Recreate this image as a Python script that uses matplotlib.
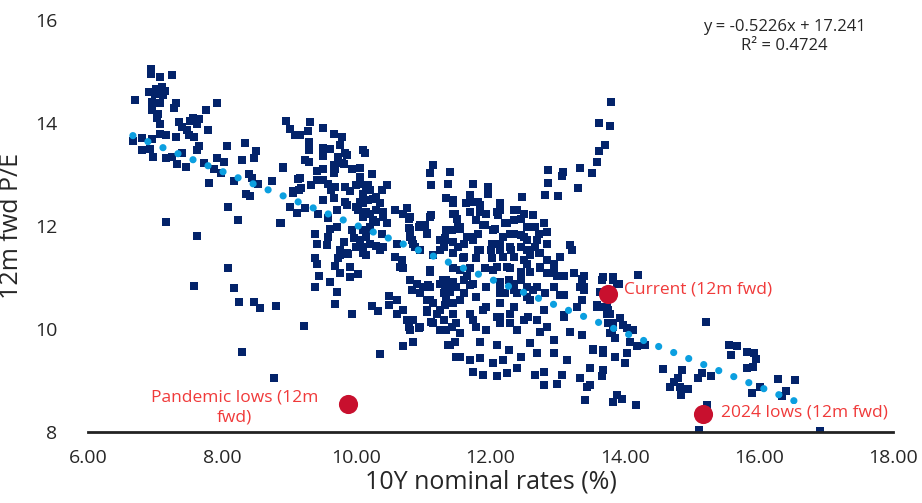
import numpy as np
import matplotlib
matplotlib.use("Agg")
import matplotlib.pyplot as plt

plt.rcParams['font.family'] = ['Liberation Sans Narrow', 'Open Sans', 'DejaVu Sans']

# ---- data: (10Y nominal rate %, 12m fwd P/E) ----
early_high_pe = [
    (6.94, 15.04), (6.94, 14.95), (7.07, 14.89), (7.25, 14.93), (7.01, 14.67), (7.11, 14.70),
    (7.07, 14.60), (7.15, 14.63), (6.91, 14.60), (7.00, 14.57), (7.12, 14.54), (6.70, 14.44),
    (6.96, 14.41), (7.07, 14.39), (7.31, 14.39), (7.28, 14.30), (6.96, 14.26), (7.05, 14.18),
    (7.03, 14.09), (7.07, 13.98), (7.92, 14.39), (7.76, 14.25), (7.35, 14.02), (7.40, 13.92),
    (7.56, 14.09), (7.65, 14.07), (7.62, 13.99), (7.47, 13.86), (7.52, 14.03), (7.79, 13.86),
    (7.08, 13.79), (7.17, 13.76), (7.31, 13.72), (7.51, 13.76), (7.58, 13.72), (6.81, 13.70),
    (6.95, 13.68), (6.67, 13.65), (6.81, 13.47), (6.92, 13.50), (7.65, 13.55), (7.62, 13.47),
    (8.07, 13.55), (8.34, 13.61), (8.51, 13.46), (8.47, 13.33), (8.29, 13.29), (6.97, 13.34),
    (7.17, 13.33), (7.25, 13.34), (7.40, 13.41), (7.33, 13.20), (7.46, 13.14), (7.73, 13.23),
    (7.93, 13.33), (8.03, 13.24), (7.88, 13.10), (7.98, 13.03), (8.40, 13.01), (8.45, 12.94),
    (8.17, 12.88), (8.54, 12.81), (8.74, 12.88), (8.95, 14.04), (9.01, 13.88), (9.08, 13.76),
    (8.90, 13.14), (9.13, 12.92), (9.05, 12.64), (9.15, 12.69), (8.35, 12.62), (8.41, 12.58),
    (7.81, 12.84), (8.09, 12.36), (8.24, 12.11), (8.88, 12.06), (7.16, 12.08), (7.62, 11.81),
    (9.01, 12.36), (9.11, 12.26), (8.08, 11.19), (7.58, 10.84), (8.17, 10.80), (8.25, 10.53),
    (8.48, 10.53), (8.57, 10.41), (8.81, 10.45), (8.29, 9.56), (8.78, 9.05),
]

mid_upper = [
    (9.31, 14.02), (9.28, 13.85), (9.51, 13.91), (9.16, 13.76), (9.66, 13.79), (9.78, 13.72),
    (9.30, 13.63), (9.30, 13.48), (9.51, 13.52), (9.61, 13.50), (9.76, 13.57), (9.86, 13.37),
    (9.72, 13.34), (10.10, 13.47), (10.13, 13.42), (9.50, 13.35), (9.23, 13.28), (9.30, 13.24),
    (9.78, 13.22), (9.66, 13.18), (9.93, 13.11), (10.06, 13.13), (8.91, 13.13), (9.41, 13.07),
    (9.51, 13.11), (9.66, 13.03), (10.23, 13.01), (10.06, 12.95), (9.16, 12.94), (9.41, 12.89),
    (9.51, 12.89), (9.58, 12.81), (9.83, 12.76), (10.00, 12.79), (10.15, 12.76), (10.45, 12.79),
    (9.33, 12.79), (9.18, 12.73), (9.06, 12.67), (9.63, 12.69), (9.90, 12.67), (10.10, 12.63),
    (10.20, 12.69), (10.38, 12.69), (9.66, 12.55), (9.83, 12.47), (9.51, 12.50), (9.23, 12.34),
    (8.86, 12.06), (9.43, 12.24), (9.58, 12.15), (9.71, 12.31), (9.86, 12.41), (10.00, 12.37),
    (10.10, 12.44), (10.18, 12.50), (10.30, 12.57), (10.35, 12.44), (10.10, 12.18), (10.20, 12.24),
    (10.30, 12.31), (10.40, 12.18), (10.30, 12.08), (10.20, 11.99), (10.10, 11.92), (10.45, 12.05),
    (10.58, 12.31), (10.75, 12.34), (10.80, 12.18), (10.78, 11.97), (10.93, 11.99), (11.05, 11.87),
    (11.12, 12.21), (11.15, 13.18), (11.10, 13.03), (11.12, 12.79), (11.37, 12.82), (11.40, 13.05),
    (11.34, 12.55), (11.44, 12.50), (11.47, 12.23), (11.52, 11.99), (11.34, 11.92), (11.25, 11.72),
    (11.30, 11.59), (11.44, 11.69), (11.44, 11.47), (10.80, 11.85), (10.83, 11.72), (10.88, 11.59),
    (10.60, 11.66), (10.58, 11.40), (10.68, 11.34), (10.35, 11.54), (10.15, 11.43), (10.00, 11.59),
    (9.93, 11.92), (9.96, 11.76), (10.06, 11.72), (10.15, 11.79), (10.20, 11.66), (9.81, 11.69),
    (9.76, 11.53), (9.86, 11.47), (9.73, 11.37), (9.90, 11.21), (9.68, 11.22), (9.58, 11.79),
    (9.61, 11.95), (9.56, 11.63), (9.38, 11.85), (9.41, 11.65), (9.38, 11.37), (9.41, 11.27),
    (10.65, 11.21), (11.10, 11.15),
]

mid_lower = [
    (9.76, 11.43), (9.88, 11.45), (10.10, 11.48), (9.76, 11.08), (10.03, 11.07), (9.90, 11.00),
    (9.61, 10.92), (9.45, 11.02), (9.38, 10.82), (9.71, 10.72), (9.68, 10.48), (9.93, 10.30),
    (9.22, 10.06), (10.36, 9.51), (10.70, 9.66), (10.84, 9.75), (10.23, 10.45), (10.33, 10.34),
    (10.48, 10.65), (10.60, 10.56), (10.48, 10.47), (10.60, 10.30), (10.70, 10.37), (10.75, 10.17),
    (10.80, 9.98), (10.93, 10.01), (10.70, 11.18), (10.80, 10.95), (10.90, 10.88), (10.83, 10.75),
    (10.95, 10.69), (11.07, 10.85), (11.10, 11.11), (11.05, 10.56), (11.15, 10.50), (11.05, 10.33),
    (11.20, 10.30), (11.25, 10.88), (11.34, 10.95), (11.44, 10.92), (11.30, 10.69), (11.40, 10.72),
    (11.32, 10.47), (11.44, 10.50), (11.30, 10.17), (11.42, 10.04), (11.25, 9.98), (10.85, 10.17),
    (11.37, 9.69), (11.49, 9.46), (11.12, 10.14), (10.78, 10.04),
]

late_cluster = [
    (13.71, 13.57), (13.61, 13.46), (13.58, 13.24), (13.52, 13.03), (13.34, 13.13), (13.30, 12.74),
    (13.08, 13.05), (13.06, 12.97), (12.86, 13.09), (12.86, 12.84), (12.81, 12.60), (13.01, 12.58),
    (12.47, 12.57), (12.39, 12.31), (12.64, 12.21), (12.79, 12.05), (12.84, 11.89), (12.84, 11.66),
    (13.19, 11.63), (13.21, 11.53), (13.04, 11.40), (12.94, 11.24), (13.24, 11.08), (13.39, 11.02),
    (13.34, 10.82), (13.66, 10.96), (13.82, 10.96), (13.88, 10.87), (13.09, 10.66), (11.74, 12.82),
    (11.97, 12.76), (11.97, 12.63), (11.44, 12.47), (11.69, 12.60), (11.69, 12.47), (11.82, 12.47),
    (12.14, 12.44), (12.14, 12.31), (12.09, 12.28), (11.44, 12.24), (11.50, 12.14), (11.69, 12.28),
    (11.84, 12.28), (11.79, 12.11), (11.92, 12.01), (12.07, 11.95), (12.22, 12.05), (12.35, 12.11),
    (12.45, 12.14), (12.55, 11.99), (12.67, 11.99), (12.72, 11.85), (11.10, 12.18), (10.95, 12.01),
    (11.42, 11.92), (11.55, 11.95), (11.65, 11.79), (11.32, 11.76), (11.60, 11.66), (11.74, 11.72),
    (11.82, 11.85), (12.02, 11.66), (12.19, 11.79), (12.29, 11.85), (12.45, 11.82), (12.55, 11.72),
    (12.67, 11.59), (12.45, 11.59), (12.29, 11.59), (12.14, 11.53), (12.00, 11.53), (11.84, 11.53),
    (11.25, 11.53), (11.15, 11.44), (11.60, 11.40), (11.79, 11.37), (12.02, 11.37), (12.19, 11.40),
    (12.35, 11.40), (12.50, 11.34), (12.59, 11.44), (12.72, 11.47), (12.84, 11.34), (10.95, 11.53),
    (11.44, 11.18), (11.69, 11.18), (11.92, 11.18), (12.09, 11.21), (12.29, 11.18), (12.45, 11.11),
    (12.59, 11.11), (12.74, 11.18), (12.84, 11.08), (12.99, 11.02), (13.09, 11.02), (12.45, 10.95),
    (12.27, 10.95), (12.14, 10.92), (11.94, 10.82), (11.74, 10.88), (11.60, 10.95), (11.10, 10.82),
    (12.55, 10.82), (12.69, 10.82), (12.94, 10.82), (11.60, 10.69), (12.22, 10.69), (12.39, 10.69),
    (12.81, 10.69),
]

late_lower = [
    (11.32, 10.82), (11.49, 10.82), (11.69, 10.85), (12.14, 10.69), (12.35, 10.75), (12.55, 10.63),
    (13.39, 10.82), (13.58, 10.43), (13.73, 10.30), (13.83, 10.11), (13.81, 9.92), (11.05, 10.37),
    (11.25, 10.37), (11.44, 10.30), (11.69, 10.30), (11.89, 10.37), (12.09, 10.24), (12.29, 10.30),
    (12.50, 10.17), (12.69, 10.17), (12.84, 10.04), (13.09, 10.24), (13.29, 10.43), (10.95, 10.04),
    (11.15, 10.11), (11.34, 9.98), (11.55, 9.92), (11.79, 10.04), (11.94, 9.98), (12.14, 10.11),
    (12.39, 9.98), (12.59, 9.72), (12.74, 9.95), (12.94, 9.79), (13.19, 9.95), (13.36, 9.89),
    (11.40, 9.69), (11.84, 9.75), (12.09, 9.69), (12.27, 9.59), (12.45, 9.46), (12.69, 9.53),
    (12.94, 9.53), (13.14, 9.40), (13.53, 9.59), (13.68, 9.53), (13.86, 9.46), (11.55, 9.46),
    (11.69, 9.40), (11.84, 9.43), (12.04, 9.33), (12.19, 9.40), (12.39, 9.24), (11.74, 9.17),
    (11.89, 9.11), (12.09, 9.08), (12.24, 9.14), (12.67, 9.11), (12.79, 9.17), (12.79, 8.91),
    (12.99, 8.93), (13.06, 9.11), (13.34, 9.04), (13.44, 8.88), (13.49, 9.24), (13.68, 9.20),
    (13.66, 9.08), (13.41, 8.63), (13.82, 8.59), (13.88, 8.72), (11.47, 9.75),
]

center_fill = [
    (11.44, 12.44), (11.64, 12.44), (11.84, 12.41), (11.94, 12.24), (12.11, 12.21), (12.35, 12.31),
    (11.02, 12.01), (11.55, 11.99), (11.89, 12.01), (12.04, 11.92), (12.24, 12.05), (12.35, 11.85),
    (11.05, 11.85), (11.74, 11.79), (11.32, 11.72), (11.52, 11.59), (11.82, 11.53), (12.14, 11.66),
    (12.31, 11.53), (12.04, 11.15), (12.24, 11.21), (11.59, 11.37), (11.55, 11.15), (11.65, 11.02),
    (11.29, 10.95), (11.39, 10.85), (12.14, 10.82), (12.35, 10.88), (11.00, 10.82), (11.10, 10.56),
    (11.34, 10.63), (11.55, 10.56), (11.79, 10.63), (11.94, 10.43), (12.14, 10.50), (12.35, 10.43),
    (11.74, 10.17), (12.14, 10.24), (11.49, 10.11), (12.29, 10.11), (12.50, 12.24), (12.50, 11.79),
    (12.69, 11.72), (12.55, 11.53), (12.74, 11.47), (12.94, 11.27), (12.74, 11.21), (12.55, 11.27),
    (12.94, 11.08), (13.36, 10.98), (13.39, 10.75), (13.04, 10.66), (12.64, 10.75), (12.59, 10.56),
    (12.79, 10.37), (13.09, 10.27), (13.36, 10.56), (13.63, 10.43), (13.75, 10.37), (12.56, 10.24),
    (9.83, 13.41), (9.81, 13.21), (9.68, 13.11), (9.68, 12.76), (10.06, 12.82), (10.18, 12.79),
    (10.06, 12.47), (10.25, 12.53), (10.03, 12.31), (10.15, 12.28), (10.40, 12.28), (10.78, 12.14),
    (10.70, 12.24), (10.25, 12.11), (9.71, 11.99), (10.20, 11.92), (10.38, 11.85), (10.80, 11.92),
    (10.10, 11.59), (10.30, 11.62), (10.40, 11.59), (10.85, 11.66), (10.80, 11.79),
]

recent = [
    (13.80, 14.41), (13.62, 14.00), (13.78, 13.95), (13.68, 11.00), (13.83, 11.00), (14.20, 11.05),
    (13.91, 10.88), (13.63, 10.72), (13.58, 10.47), (13.73, 10.43), (13.78, 10.30), (13.93, 10.21),
    (13.75, 10.11), (13.83, 10.04), (13.98, 10.07), (14.03, 10.01), (13.78, 9.92), (13.86, 9.82),
    (14.13, 9.98), (14.08, 9.75), (14.18, 9.66), (14.30, 9.69), (13.53, 9.62), (13.68, 9.59),
    (14.03, 9.53), (14.01, 9.33), (13.49, 8.91), (13.96, 8.65), (14.17, 8.52), (15.21, 10.14),
    (14.57, 9.22), (14.85, 9.20), (14.80, 9.04), (14.73, 8.98), (14.68, 8.88), (14.83, 8.88),
    (14.84, 8.72), (14.95, 8.83), (15.10, 9.04), (15.15, 9.14), (15.28, 9.08), (15.22, 8.52),
    (15.11, 8.03), (15.56, 9.69), (15.67, 9.67), (15.59, 9.50), (15.83, 9.56), (15.92, 9.53),
    (15.96, 9.41), (15.82, 9.24), (15.91, 9.27), (16.02, 8.87), (15.90, 8.75), (16.29, 9.02),
    (16.54, 9.01), (16.41, 8.80), (16.34, 8.70), (16.91, 8.02),
]

# highlighted observations
highlights = ["Current (12m fwd)", "2024 lows (12m fwd)", "Pandemic lows (12m\nfwd)"]
highlight_rate = [13.75, 15.17, 9.88]
highlight_pe = [10.68, 8.35, 8.54]

# linear trendline as printed on the chart
slope, intercept, r2 = -0.5226, 17.241, 0.4724
trend_range = [6.67, 16.6]

x_ticks = [6, 8, 10, 12, 14, 16, 18]
y_ticks = [8, 10, 12, 14, 16]

NAVY = "#03236a"
TREND = "#0b9fe0"
DOT_RED = "#c8102e"
LABEL_RED = "#f03a3a"
TEXT = "#262626"

pts = np.array(early_high_pe + mid_upper + mid_lower + late_cluster + late_lower
               + center_fill + recent)

fig = plt.figure(figsize=(9.22, 5.03), dpi=100)
ax = fig.add_axes([0.0954, 0.1412, 0.8732, 0.819])

ax.scatter(pts[:, 0], pts[:, 1], marker="s", s=34, color=NAVY, linewidths=0, zorder=2)

tx = np.array(trend_range)
ax.plot(tx, slope * tx + intercept, color=TREND, lw=5.2,
        linestyle=(0, (0.001, 2.24)), dash_capstyle="round", zorder=3)

ax.scatter(highlight_rate, highlight_pe, s=190, color=DOT_RED, linewidths=0, zorder=5)

box = dict(facecolor="white", edgecolor="none", pad=1.0)
ax.text(13.99, 10.76, highlights[0], color=LABEL_RED, fontsize=12.5,
        ha="left", va="center", bbox=box, zorder=4)
ax.text(15.44, 8.37, highlights[1], color=LABEL_RED, fontsize=12.5,
        ha="left", va="center", bbox=box, zorder=4)
ax.text(8.19, 8.47, highlights[2], color=LABEL_RED, fontsize=12.5,
        ha="center", va="center", linespacing=1.35, bbox=box, zorder=4)

fig.text(0.851, 0.962, f"y = {slope}x + {intercept}\nR² = {r2}", color=TEXT,
         fontsize=12, ha="center", va="top", linespacing=1.25)

ax.set_xlim(6, 18)
ax.set_ylim(8, 16)
ax.set_xticks(x_ticks)
ax.set_xticklabels([f"{t:.2f}" for t in x_ticks])
ax.set_yticks(y_ticks)
ax.tick_params(axis="both", length=0, labelsize=14, colors=TEXT)
ax.tick_params(axis="x", pad=12)
ax.tick_params(axis="y", pad=22)

for side in ["left", "right", "top"]:
    ax.spines[side].set_visible(False)
ax.spines["bottom"].set_color("#222222")
ax.spines["bottom"].set_linewidth(2)
ax.spines["bottom"].set_zorder(6)

ax.set_xlabel("10Y nominal rates (%)", fontsize=18, color=TEXT, labelpad=2)
ax.set_ylabel("12m fwd P/E", fontsize=18, color=TEXT, labelpad=8)

fig.savefig("out.png", dpi=100, facecolor="white")
